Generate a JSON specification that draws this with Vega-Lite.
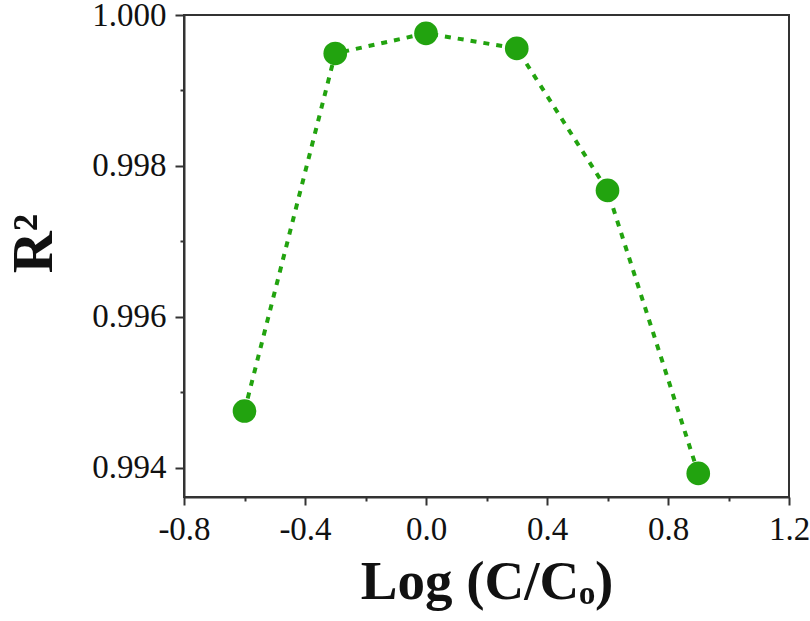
{
  "$schema": "https://vega.github.io/schema/vega-lite/v6.json",
  "width": 605,
  "height": 482,
  "autosize": "none",
  "padding": {"left": 184, "top": 15, "right": 21, "bottom": 124},
  "background": "white",
  "config": {
    "view": {"stroke": "#333333", "strokeWidth": 2},
    "font": "Liberation Serif"
  },
  "data": {
    "values": [
      {"x": -0.6, "r2": 0.99475},
      {"x": -0.3, "r2": 0.99949},
      {"x": 0.0, "r2": 0.999757},
      {"x": 0.3, "r2": 0.999557},
      {"x": 0.6, "r2": 0.997674},
      {"x": 0.9, "r2": 0.993923}
    ]
  },
  "layer": [
    {
      "mark": {"type": "line", "color": "#22a30f", "strokeWidth": 4, "strokeDash": [6, 7]},
      "encoding": {
        "x": {
          "field": "x",
          "type": "quantitative",
          "scale": {"domain": [-0.8, 1.2], "nice": false, "zero": false},
          "axis": {
            "values": [-0.8, -0.4, 0.0, 0.4, 0.8, 1.2],
            "labelExpr": "replace(format(datum.value, '.1f'), '\u2212', '-')",
            "title": "Log (C/Cₒ)",
            "grid": false,
            "domainColor": "#333333",
            "domainWidth": 2,
            "tickColor": "#333333",
            "tickWidth": 2,
            "tickSize": 8,
            "labelFont": "Liberation Serif",
            "labelFontSize": 33,
            "labelColor": "#111111",
            "labelPadding": 8,
            "labelFlush": false,
            "titleFont": "Liberation Serif",
            "titleFontSize": 55,
            "titleFontWeight": "bold",
            "titleColor": "#111111",
            "titlePadding": 9
          }
        },
        "y": {
          "field": "r2",
          "type": "quantitative",
          "scale": {"domain": [0.99361, 1.0], "nice": false, "zero": false},
          "axis": {
            "values": [0.994, 0.996, 0.998, 1.0],
            "format": ".3f",
            "title": "R²",
            "grid": false,
            "domainColor": "#333333",
            "domainWidth": 2,
            "tickColor": "#333333",
            "tickWidth": 2,
            "tickSize": 9,
            "labelFont": "Liberation Serif",
            "labelFontSize": 33,
            "labelColor": "#111111",
            "labelPadding": 9,
            "labelFlush": false,
            "titleFont": "Liberation Serif",
            "titleFontSize": 58,
            "titleFontWeight": "bold",
            "titleColor": "#111111",
            "titlePadding": 28,
            "titleY": 228
          }
        }
      }
    },
    {
      "mark": {"type": "point", "filled": true, "shape": "circle", "size": 560, "color": "#22a30f", "opacity": 1},
      "encoding": {
        "x": {"field": "x", "type": "quantitative", "scale": {"domain": [-0.8, 1.2], "nice": false, "zero": false}, "axis": null},
        "y": {"field": "r2", "type": "quantitative", "scale": {"domain": [0.99361, 1.0], "nice": false, "zero": false}, "axis": null}
      }
    },
    {
      "mark": {"type": "rule", "opacity": 0},
      "encoding": {
        "x": {
          "field": "x",
          "type": "quantitative",
          "scale": {"domain": [-0.8, 1.2], "nice": false, "zero": false},
          "axis": {
            "orient": "bottom",
            "values": [-0.6, -0.2, 0.2, 0.6, 1.0],
            "labels": false,
            "domain": false,
            "grid": false,
            "tickColor": "#333333",
            "tickWidth": 2,
            "tickSize": 4,
            "title": null
          }
        },
        "y": {
          "field": "r2",
          "type": "quantitative",
          "scale": {"domain": [0.99361, 1.0], "nice": false, "zero": false},
          "axis": {
            "orient": "left",
            "values": [0.995, 0.997, 0.999],
            "labels": false,
            "domain": false,
            "grid": false,
            "tickColor": "#333333",
            "tickWidth": 2,
            "tickSize": 4,
            "title": null
          }
        }
      }
    }
  ],
  "resolve": {"axis": {"x": "independent", "y": "independent"}}
}
